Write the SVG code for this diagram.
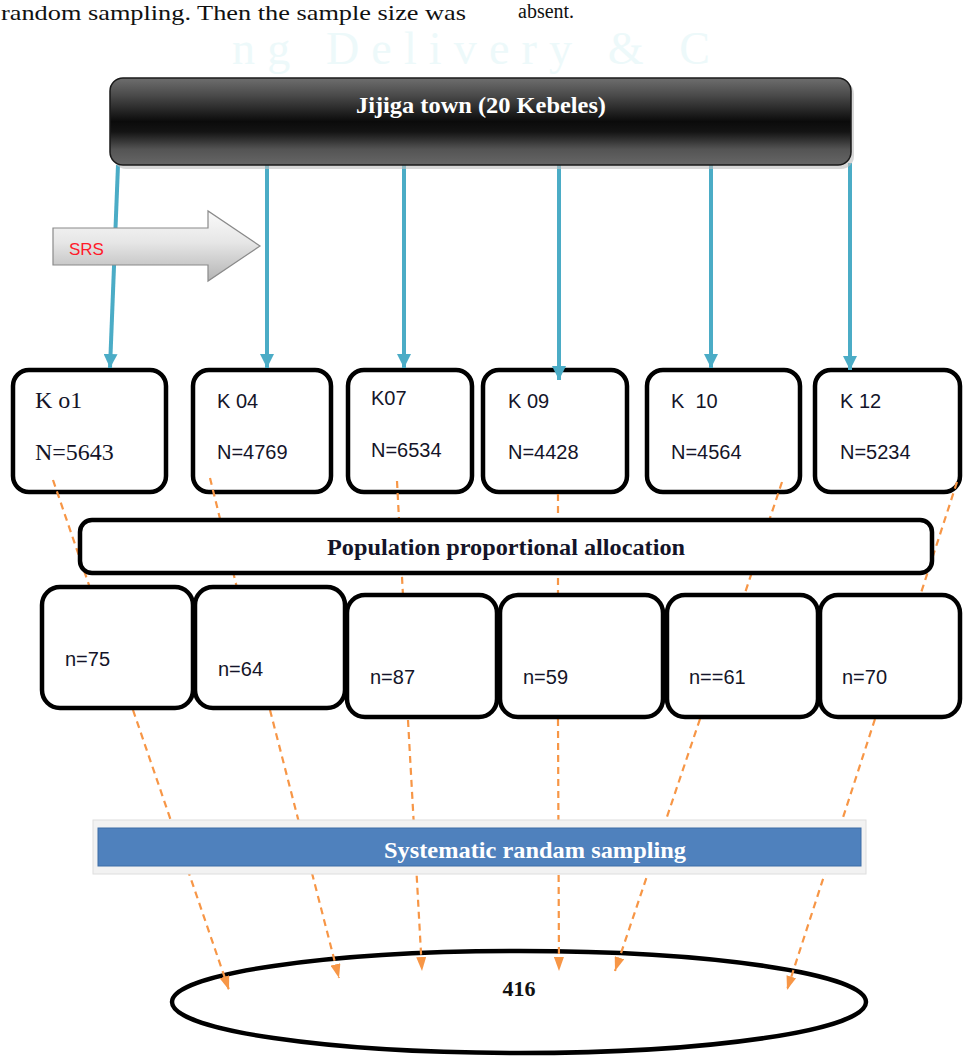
<svg xmlns="http://www.w3.org/2000/svg" width="963" height="1057" viewBox="0 0 963 1057">
<style>
.box{fill:#fff;stroke:#000;stroke-width:4.5}
.serif{font-family:"Liberation Serif","Times New Roman",serif}
.sans{font-family:"Liberation Sans",Arial,sans-serif}
.lbl{font-family:"Liberation Sans",Arial,sans-serif;font-size:20px;fill:#141428}
.slbl{font-family:"Liberation Serif","Times New Roman",serif;font-size:24px;fill:#141428}
.blue{stroke:#4BACC6;stroke-width:4;fill:none}
.org{stroke:#F79646;stroke-width:2.2;stroke-dasharray:7 5;fill:none}
</style>
<defs>
<linearGradient id="barG" x1="0" y1="0" x2="0" y2="1">
<stop offset="0" stop-color="#6e6e6e"/>
<stop offset="0.2" stop-color="#4a4a4a"/>
<stop offset="0.5" stop-color="#0b0b0b"/>
<stop offset="0.62" stop-color="#141414"/>
<stop offset="0.82" stop-color="#545454"/>
<stop offset="1" stop-color="#666"/>
</linearGradient>
<linearGradient id="srsG" x1="0" y1="0" x2="0" y2="1">
<stop offset="0" stop-color="#fafafa"/>
<stop offset="0.45" stop-color="#e6e6e6"/>
<stop offset="1" stop-color="#b4b4b4"/>
</linearGradient>
<marker id="ab" viewBox="0 0 14 14" refX="14" refY="7" markerWidth="14" markerHeight="14" markerUnits="userSpaceOnUse" orient="auto">
<path d="M0,0 L14,7 L0,14 z" fill="#4BACC6"/>
</marker>
<marker id="ao" viewBox="0 0 14 10" refX="14" refY="5" markerWidth="14" markerHeight="10" markerUnits="userSpaceOnUse" orient="auto">
<path d="M0,0 L14,5 L0,10 z" fill="#F79646"/>
</marker>
</defs>
<rect width="963" height="1057" fill="#fff"/>
<g id="page-text">
<text class="serif" x="1" y="20" font-size="21" textLength="465" lengthAdjust="spacingAndGlyphs" fill="#111">random sampling. Then the sample size was</text>
<text class="serif" x="518" y="18" font-size="20" fill="#111">absent.</text>
<text class="serif" x="232" y="64" font-size="46" textLength="478" fill="#edf9fa">ng Delivery &amp; C</text>
</g>
<g id="total">
<ellipse cx="519" cy="1002" rx="347" ry="51" fill="#fff" stroke="#000" stroke-width="4.5"/>
<text class="serif" x="519" y="996" font-size="22" font-weight="bold" text-anchor="middle" fill="#111">416</text>
</g>
<g id="kebele-k01"><rect class="box" x="13" y="370" width="153" height="122" rx="16"/><text class="slbl" x="35" y="408">K o1</text><text class="slbl" x="35" y="460">N=5643</text></g>
<g id="kebele-k04"><rect class="box" x="193" y="370" width="138" height="122" rx="16"/><text class="lbl" x="217" y="408">K 04</text><text class="lbl" x="217" y="459">N=4769</text></g>
<g id="kebele-k07"><rect class="box" x="348" y="370" width="124" height="122" rx="16"/><text class="lbl" x="371" y="405">K07</text><text class="lbl" x="371" y="457">N=6534</text></g>
<g id="kebele-k09"><rect class="box" x="483" y="370" width="144" height="122" rx="16"/><text class="lbl" x="508" y="408">K 09</text><text class="lbl" x="508" y="459">N=4428</text></g>
<g id="kebele-k10"><rect class="box" x="647" y="370" width="153" height="122" rx="16"/><text class="lbl" x="671" y="408" style="white-space:pre">K  10</text><text class="lbl" x="671" y="459">N=4564</text></g>
<g id="kebele-k12"><rect class="box" x="815" y="370" width="145" height="122" rx="16"/><text class="lbl" x="840" y="408">K 12</text><text class="lbl" x="840" y="459">N=5234</text></g>
<g id="connectors">
<line class="blue" x1="118" y1="165" x2="110" y2="368" marker-end="url(#ab)"/>
<line class="blue" x1="267" y1="165" x2="267" y2="368" marker-end="url(#ab)"/>
<line class="blue" x1="404" y1="165" x2="404" y2="368" marker-end="url(#ab)"/>
<line class="blue" x1="559" y1="165" x2="559" y2="380" marker-end="url(#ab)"/>
<line class="blue" x1="711" y1="165" x2="711" y2="368" marker-end="url(#ab)"/>
<line class="blue" x1="850" y1="163" x2="850" y2="370" marker-end="url(#ab)"/>
<line class="org" x1="53" y1="480" x2="90" y2="588"/>
<line class="org" x1="210" y1="478" x2="237" y2="588"/>
<line class="org" x1="397" y1="481" x2="403" y2="596"/>
<line class="org" x1="558" y1="494" x2="558" y2="596"/>
<line class="org" x1="782" y1="482" x2="744" y2="596"/>
<line class="org" x1="957" y1="482" x2="920" y2="596"/>
<line class="org" x1="133" y1="710" x2="229" y2="990" marker-end="url(#ao)"/>
<line class="org" x1="270" y1="710" x2="339" y2="978" marker-end="url(#ao)"/>
<line class="org" x1="408" y1="720" x2="422" y2="971" marker-end="url(#ao)"/>
<line class="org" x1="558" y1="719" x2="559" y2="971" marker-end="url(#ao)"/>
<line class="org" x1="700" y1="719" x2="615" y2="971" marker-end="url(#ao)"/>
<line class="org" x1="875" y1="719" x2="787" y2="990" marker-end="url(#ao)"/>
</g>
<g id="srs">
<path d="M53,228 L208,228 L208,211 L260,246 L208,281 L208,265 L53,265 Z" fill="url(#srsG)" stroke="#8a8a8a" stroke-width="1.2"/>
<text class="sans" x="69" y="255" font-size="17" fill="#ff1a2a">SRS</text>
</g>
<g id="allocation">
<rect class="box" x="80" y="520" width="852" height="53" rx="12"/>
<text class="serif" x="506" y="555" font-size="23" font-weight="bold" text-anchor="middle" textLength="358" lengthAdjust="spacingAndGlyphs" fill="#141428">Population proportional allocation</text>
</g>
<g id="sample-75"><rect class="box" x="42" y="587" width="151" height="121" rx="18"/><text class="lbl" x="65" y="666" font-size="16">n=75</text></g>
<g id="sample-64"><rect class="box" x="195" y="587" width="150" height="121" rx="18"/><text class="lbl" x="218" y="676">n=64</text></g>
<g id="sample-87"><rect class="box" x="347" y="595" width="150" height="122" rx="18"/><text class="lbl" x="370" y="684">n=87</text></g>
<g id="sample-59"><rect class="box" x="500" y="595" width="163" height="122" rx="18"/><text class="lbl" x="523" y="684">n=59</text></g>
<g id="sample-61"><rect class="box" x="667" y="595" width="151" height="122" rx="18"/><text class="lbl" x="689" y="684">n==61</text></g>
<g id="sample-70"><rect class="box" x="820" y="595" width="140" height="122" rx="18"/><text class="lbl" x="842" y="684">n=70</text></g>
<g id="systematic">
<rect x="93" y="820" width="773" height="54" fill="#f2f2f2" stroke="#dedede" stroke-width="1"/>
<rect x="98" y="828" width="763" height="38" fill="#4F81BD" stroke="#3d6ca6" stroke-width="1"/>
<text class="serif" x="535" y="858" font-size="23" font-weight="bold" text-anchor="middle" textLength="302" lengthAdjust="spacingAndGlyphs" fill="#fff">Systematic randam sampling</text>
</g>
<g id="town">
<rect x="113" y="81" width="741" height="88" rx="13" fill="#bdbdbd" opacity="0.6"/>
<rect x="110" y="78" width="741" height="87" rx="13" fill="url(#barG)" stroke="#1a1a1a" stroke-width="1.5"/>
<text class="serif" x="481" y="113" font-size="24" font-weight="bold" text-anchor="middle" textLength="250" lengthAdjust="spacingAndGlyphs" fill="#fff">Jijiga town (20 Kebeles)</text>
</g>
</svg>
